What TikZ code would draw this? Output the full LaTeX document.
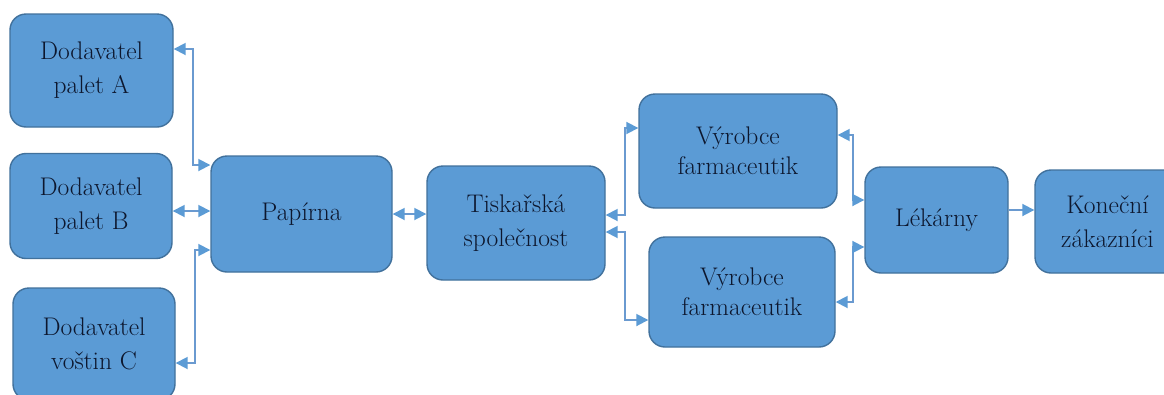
\documentclass[tikz,border=0pt]{standalone}
\usepackage{fontspec}
\usetikzlibrary{arrows.meta}

\definecolor{boxfill}{HTML}{5B9BD5}
\definecolor{boxline}{HTML}{41719C}
\definecolor{linkcol}{HTML}{6A9AD0}
\definecolor{textcol}{HTML}{0D172E}

\tikzset{
  tip/.tip={Triangle[length=12pt,width=12pt,color=boxfill]},
  box/.style={draw=boxline, fill=boxfill, line width=1.4pt, rounded corners=16pt,
    inner sep=0pt, align=center, text=textcol,
    font=\rmfamily\fontsize{25.5}{34}\selectfont},
  tight/.style={font=\rmfamily\fontsize{25.5}{30}\selectfont},
  link/.style={draw=linkcol, line width=1.8pt, -tip},
  dbl/.style={draw=linkcol, line width=1.8pt, tip-tip}
}

\begin{document}
\begin{tikzpicture}[x=1pt,y=-1pt]
\fill[white] (0,0) rectangle (1164,394);
\useasboundingbox (0,0) rectangle (1164,394);

% suppliers
\node[box, minimum width=163pt, minimum height=113pt] (A) at (91.5,70.5) {Dodavatel\\palet A};
\node[box, minimum width=162pt, minimum height=105pt] (B) at (91,206) {Dodavatel\\palet B};
\node[box, minimum width=162pt, minimum height=112pt] (C) at (94,344) {Dodavatel\\voštin C};

% main chain
\node[box, minimum width=181pt, minimum height=116pt] (P) at (301.5,214) {Papírna};
\node[box, minimum width=178pt, minimum height=114pt] (T) at (516,223) {Tiskařská\\společnost};
\node[box, tight, minimum width=198pt, minimum height=114pt] (V1) at (738,151) {Výrobce\\farmaceutik};
\node[box, tight, minimum width=186pt, minimum height=110pt] (V2) at (742,292) {Výrobce\\farmaceutik};
\node[box, minimum width=143pt, minimum height=106pt] (L) at (936.5,220) {Lékárny};
\node[box, minimum width=145pt, minimum height=103pt] (K) at (1107.5,221.5) {Koneční\\zákazníci};

% supplier links
\draw[dbl] ([yshift=21.5pt]A.east) -- ++(19,0) |- ([yshift=49pt]P.west);
\draw[dbl] ([yshift=-5pt]B.east) -- ([yshift=3pt]P.west);
\draw[dbl] ([yshift=-19pt]C.east) -- ++(19,0) |- ([yshift=-36pt]P.west);

% paper mill to printer
\draw[dbl] (P.east) -- (T.west |- P.east);

% printer to manufacturers
\draw[dbl] ([yshift=8pt]T.east) -- ++(19,0) |- ([yshift=23pt]V1.west);
\draw[dbl] ([yshift=-9pt]T.east) -- ++(19,0) |- ([yshift=-28pt]V2.west);

% manufacturers to pharmacies
\draw[dbl] ([yshift=16pt]V1.east) -- ++(15,0) |- ([yshift=20pt]L.west);
\draw[dbl] ([yshift=-10pt]V2.east) -- ++(17,0) |- ([yshift=-27pt]L.west);

% pharmacies to end customers
\draw[link] ([yshift=10pt]L.east) -- ([yshift=11.5pt]K.west);
\end{tikzpicture}
\end{document}
